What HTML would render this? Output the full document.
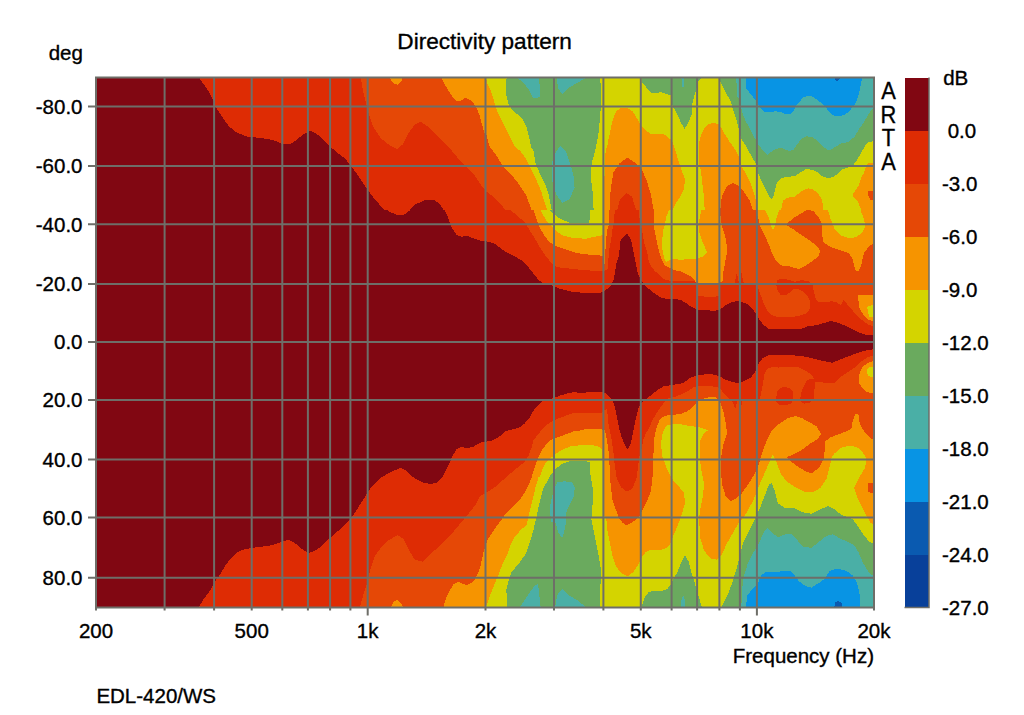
<!DOCTYPE html><html><head><meta charset="utf-8"><style>html,body{margin:0;padding:0;background:#fff;}svg{display:block}</style></head><body>
<svg width="1024" height="715" viewBox="0 0 1024 715" font-family='"Liberation Sans", sans-serif' fill="#000">
<style>text{stroke:#000;stroke-width:0.35px}</style>
<defs><clipPath id="pc"><rect x="96" y="77.5" width="778" height="530.0"/></clipPath><clipPath id="b0"><rect x="0" y="0" width="1024" height="210"/></clipPath><clipPath id="b1"><rect x="0" y="210" width="1024" height="133"/></clipPath><clipPath id="b2"><rect x="0" y="342.5" width="1024" height="372.5"/></clipPath></defs>
<g clip-path="url(#pc)" shape-rendering="crispEdges">
<rect x="96" y="77.5" width="778" height="530.0" fill="#810712"/>
<g clip-path="url(#b0)">
<path d="M96,70 200,70 199.8,78.5 202.6,82.7 206.5,88.4 210.3,94.1 213.1,99.9 215,105.6 217.9,110.3 221.7,116 225.5,121.8 229.3,126.5 235,131.3 240.7,134.1 246.4,136.4 252.2,137 259.8,138 267.4,138.9 275,140.8 281.7,143.7 291,143.5 296.7,139.8 302.4,135.1 307.2,132.2 311,130.9 315.8,133.2 321.5,137.9 329.1,145.6 336.7,152.2 344.3,157.9 350,164.6 355.7,172.2 361.5,180.8 367.2,189.4 372.9,197 378.6,203.6 384.3,209.9 386,215 408,215 409,210 414.8,204.6 424.3,200.4 433.8,199.8 439.5,203.6 443.4,209.9 444,215 880,215 880,70Z" fill="#de2c04"/>
<path d="M360.5,70 360.5,77 363.4,92.2 366.2,103.7 369.1,115.1 372.9,126.5 380.5,137.9 390,145.6 397.6,149 403.4,143.7 409.1,132.2 414.8,124.6 420.5,121.8 428.1,126.5 437.6,136 449.1,147.5 458.6,158.9 466.2,166.5 473.8,174.1 481.4,185.5 486,191.3 493.6,197 501.2,204.6 505,210 506,215 880,215 880,70Z" fill="#e54806"/>
<path d="M390,70 390,78.5 393.8,83.7 397.6,84.6 401.5,80.8 402.4,77 402.4,70Z" fill="#f69400"/>
<path d="M443,70 442,79 443.9,82.9 446.9,87.8 449.8,92.7 453.7,98.5 457.6,101.5 461.5,100.5 465.5,97.6 469.4,99.5 473.3,102.5 476.2,107.4 479.2,114.2 481.1,121.1 483.1,127.9 484.6,133.8 487,135.8 488,141.6 490,147 497.4,157 503.1,166.5 510.8,174.1 518.4,183.6 526,195.1 531.7,210 532,215 880,215 880,70Z" fill="#f69400"/>
<path d="M486,70 486,77 487,82.9 490,88.8 492.9,96.6 494.8,104.4 496.8,110.3 500.7,118.1 504.6,126 508.6,133.8 512.5,141.6 515,147 520.3,151 526,158.9 529.8,166.5 535.5,177.9 541.2,191.3 547,210 547,215 880,215 880,70Z" fill="#d4d400"/>
<path d="M506.6,70 506.6,78 505.6,86.8 506.6,96.6 508.6,104.4 512.5,110.3 518.4,115.2 523.3,120.1 526.2,126 528.1,133.8 530.1,141.6 531.1,147 533.6,151.3 535.5,162.7 539.3,172.2 545,183.6 548.8,195 551.7,210 552,215 593.6,215 593.6,210 592.6,191.3 590.7,176 591.7,162.7 594.6,153.2 598.4,134.1 600.3,115.1 601.2,96 600.3,78.5 600.3,70Z" fill="#6aaa5e"/>
<path d="M642,70 642,81.9 645.9,86.8 649.8,91.7 652.7,93.2 657.6,92.7 661.5,92.2 665.5,93.7 669.4,95.1 671.3,95.6 672.3,104.4 673.3,107.4 677.2,114.2 681.1,123 684.6,128.9 688,123 691.9,114.2 691.9,106.4 692.9,101.5 694.4,95.6 696.3,88.8 697.8,82.9 698.8,79.9 700.7,79 700.7,70Z" fill="#6aaa5e"/>
<path d="M719.5,70 719.5,80 721.3,83.9 725.2,91.7 729.1,98.5 731.1,102.5 733,109.3 736,118.1 738,126 739.8,134 741.9,140 745.8,145.9 750.7,154.7 754.6,161.5 756.9,164.5 758.6,174.3 761.5,181.1 764.4,187 768.4,194.8 771.3,199.7 773.3,196.8 775.2,189 777.2,182.1 781.1,178.2 786,177.2 794.7,176 799.6,173.1 805.5,169.2 812.3,169.7 817.2,172.1 822.1,176 828,178.5 832.9,177 838.8,173.1 842.7,169.2 848.6,167.2 853.5,164.8 857.4,159.4 861.3,152.5 865.2,145.7 868.1,141.8 874,141.3 880,141 880,70Z" fill="#6aaa5e"/>
<path d="M518.4,70 518.4,78.5 525.2,84.8 530.1,91.7 533,98.1 537.9,97.6 540,96.6 539.3,78.5 539.3,70Z" fill="#4aafa6"/>
<path d="M556.5,70 556.5,78.5 558.4,88.4 562.2,94.1 567.9,88.4 577.4,82.7 585,78.5 585,70Z" fill="#4aafa6"/>
<path d="M560.3,145.6 556.5,151.3 552.7,158.9 551.7,172.2 552.7,183.6 556.5,195.1 562.2,202.7 569.8,198.9 574.6,187.5 573.6,176 571.7,168.4 566,151.3Z" fill="#4aafa6"/>
<path d="M681,70 684.5,70 684,87 682,87Z" fill="#4aafa6"/>
<path d="M736,70 740,70 740,100 737,96Z" fill="#4aafa6"/>
<path d="M740,70 740.8,106 742.7,114.2 745.7,121.1 749.6,127.9 753.5,135.8 756.4,141 758.6,145 762.5,149.8 767.4,154.7 771.3,151.8 776.2,148.8 781.1,147.8 784.9,149.6 789.8,151.1 793.7,149.6 797.6,143.7 801.5,138.8 806.4,136.4 812.3,136.9 817.2,140.8 822.1,145.7 827,149.6 830.9,149.6 835.8,146.6 840.7,143.7 848.6,141.8 854.4,136.9 858.4,130 862.7,124 867.4,116.2 871.3,109.9 874,108 880,108 880,70Z" fill="#4aafa6"/>
<path d="M745.7,70 745.7,87.8 749.6,92.7 753.5,97.6 756.4,100.5 759.4,106.4 762.3,110.3 765.3,112.3 771.1,112.3 775.1,111.3 780.9,111.8 784.8,114.2 790.7,114.2 793.7,110.3 797.6,103.4 800,101.3 803.1,97.4 807.8,95.8 812.5,96.6 817.2,99.7 821.9,103.6 825.9,107.6 829,111.5 832.9,115.4 837.6,115.8 843.9,115.4 847.8,112.3 851.7,108.3 854.9,104.4 857.2,98.9 859.6,91.1 861.1,83.3 861.9,78.6 862,70Z" fill="#0894e4"/>
<path d="M834.5,70 840.8,70 840.8,78 839,80 837.6,81.3 835.5,80 834.5,78Z" fill="#0a5ab0"/>
<path d="M604.5,215 604.2,189 604.7,169.4 605.7,149.8 607.5,145 608.4,140 609.3,135.8 611.3,126 613.3,118.1 616.2,111.3 620.1,108.3 626.9,107.5 632.6,111.3 638.4,120.8 642,127 645.9,130.9 650.8,133.8 663.5,133.8 668.4,137.7 672.3,141 675.2,149.8 678.1,159.6 681.1,169.4 685,179.2 684,189 680.1,196.8 676.2,202.7 673.3,208.6 672,215Z" fill="#f69400"/>
<path d="M704.7,215 704.7,210 703.7,193.9 701.8,179.2 700.8,169.4 698.8,165.5 698.5,145 700.7,135.8 704.6,127.9 708.6,124 713.5,123 718.4,124 721.3,127.9 725.2,134.8 729.1,141 734.1,147.8 739,156.7 741.9,167.4 745.8,173.3 749.7,181.1 752.7,189 755.6,198.8 757.6,210 758,215Z" fill="#f69400"/>
<path d="M866.2,166.2 868.1,163.3 874,163 880,163 880,215 863.4,216 862.3,212.4 860.1,207.3 858.4,202.3 855,198.4 852.2,195 854.5,191.7 858.4,186.1 860.1,181.6 861.7,176 863.3,174.1 865.2,169.2Z" fill="#f69400"/>
<path d="M781,215 781.1,210 783,200.7 787,197.8 794.7,196.6 802.5,190.7 808.4,188.3 813.3,189.7 818.2,193.7 822.1,200 824,215Z" fill="#f69400"/>
<path d="M609.6,215 609.6,198.8 611.5,184.1 613.5,172.3 619.4,163.5 627.2,157.6 635,162.5 641.9,169.4 646.8,181.1 650.7,193.9 653.7,210 654,215Z" fill="#e54806"/>
<path d="M720.4,215 720.4,210 720.9,200.7 723.3,192.9 727.2,186 733.1,183.1 739,186 744.8,192.9 749.7,200.7 752.7,210 753,215Z" fill="#e54806"/>
<path d="M867.5,193 869,190.5 880,190.5 880,200.5 870,199.5Z" fill="#e54806"/>
<path d="M617.4,215 617.4,210 619.4,200.7 626.2,192.9 632.1,196.8 636,210 636,215Z" fill="#de2c04"/>
</g>
<g clip-path="url(#b1)">
<path d="M370,195 379.2,204.4 385.1,208.8 391,212.5 396.8,214.7 401.2,215.4 405.6,214 411.5,208.8 417.4,204.4 423.3,202.2 429.1,200.7 435,201.5 440.9,204.4 443.8,208.8 446.8,214.7 449.7,222 452.7,229.4 457.1,235.3 461.5,236.7 467.3,236 473.2,238.2 479.1,240.4 484.2,241.1 489.9,242.1 493.8,243.1 497.8,246 501.7,249 505.6,251.9 511.5,254.8 517.3,257.8 522.2,260.7 526.2,264.6 529,268 531.3,270.9 535.3,275.8 539.2,280.7 543.1,283.1 549,284.6 553.9,286.1 558.8,288.5 564.6,290 570.5,291.4 578.4,292.4 586.2,292.9 594,293.4 599.9,292.9 603.8,291.4 607.8,288.5 611.7,284.6 613.6,279.7 614.6,274.8 615.6,268.9 616.7,262 618.2,258.8 619.7,249 620.2,241.1 623.1,237.2 627,233.8 630.9,239.2 632.9,249 634.8,258.8 636.2,265 637.1,270.9 639.1,276.8 642,281.7 646,286.5 650.8,290.5 655.7,294.4 660.6,297.3 666.5,298.8 672.4,299.3 677.3,299.3 681.2,300.3 686.1,303.2 690,306.1 693.9,308.1 697.8,309.6 703.7,310.1 709.6,310.5 715.5,310.5 719.4,310.1 723.3,307.1 727.2,304.2 732.1,302.2 736,301.2 740.9,301.7 745.9,303.3 749.8,306.2 753.7,310.2 756.7,315.1 759.6,320 763.5,324.8 768.4,328.8 779.2,329.3 789.8,329.4 801.5,328.9 807.4,326.4 817.2,325 824.1,323 830.9,321.1 838.8,323 846.6,326.4 854.4,330.4 861.3,333.3 866.2,334.8 874,335.3 880,335.3 880,195Z" fill="#de2c04"/>
<path d="M495,195 499.7,200 505.6,205.9 511.5,210.8 518.3,216.7 525.2,222.5 529.1,229.4 533,235.3 536.9,242.1 540.8,249 544.8,254.8 548.7,259.7 552.6,263.7 556.5,266.6 560.5,267.5 568.6,268.5 578.4,269.5 588.1,270.4 598,270.9 603,271 607.4,270 608.4,258.8 609.4,249 611.3,239.2 612.3,229.4 613.8,223.5 614.8,209.8 615,205 637.5,205 638.8,209.8 639.7,219.6 640.7,224.5 642.7,234.3 644.6,244.1 647.6,253.9 648.9,262 651,266 654.8,270.9 660.6,276 664.2,279.2 670.5,280.9 676.8,281 685.2,281 693.6,280.5 696.5,282 697.5,295.5 703.7,296.5 709.6,296.8 715.5,296.5 719.4,296.3 719.6,284.5 740,284 756.4,284 758,286.3 758.6,289.6 761.5,297.4 764.5,305.3 767.4,311.1 771.3,315.1 777.2,317 784.1,316.5 793.9,316.8 799.6,315.7 805.5,313.7 809.4,309.8 810.5,302.3 807.6,296.4 802.7,291.5 797.8,288.6 793.9,288.6 790,292.5 785.1,295.5 780.2,294.5 777.2,289.6 776.2,284.7 777.2,279.8 782.1,278.8 789,279.8 794.8,281.8 800.7,280.3 808.6,280.8 812.5,284.7 813.5,289.6 815.2,297.4 818.1,302.2 825,302.2 831.8,301.2 836.7,302.2 840.6,305.1 843.7,300 848.6,305.9 854.4,312.7 861.3,319.6 868.1,324.5 874,326.4 880,326.4 880,195Z" fill="#e54806"/>
<path d="M734.5,284 736.8,272.2 739.2,284Z" fill="#de2c04"/>
<path d="M740.8,284 741.5,273 743.9,284Z" fill="#de2c04"/>
<path d="M531.7,205 534,211.8 536,217.6 537.9,223.5 540.8,229.4 544.8,236.2 548.7,241.1 553.6,245.1 558.5,247 564.4,249 570.2,250.9 576.1,252.9 582,253.9 586,254.4 591.8,254.8 597.6,255.3 602.5,255.8 603.5,263 604.5,264 605,258.8 605.5,249 606,239.2 607.4,229.4 609.4,223.5 609.4,210 609.5,205 653,205 653.5,209.8 653.5,223.5 654.4,229.4 656.4,239.2 658.4,249 661.3,258.8 664.6,265 669.5,267.9 674.4,270.4 680.2,270.9 686.1,273.8 691,276.8 694,279.7 696,282.6 700,283 719,283 722.7,280.9 723.5,270.7 725,263 726.5,255 727,247 725.8,239.2 724,232.3 722,226.4 720.4,215 720.4,205 752.7,205 754.5,208 756.6,212.6 758.6,219.5 759.6,224.4 762.5,231.2 766.4,239.1 769.4,245.9 772.3,253.8 775.3,259.6 779.2,264 781.9,265.5 787.8,266 793.6,267.6 797.5,268.6 799.5,268.6 805.4,265.6 811.3,261.7 818.1,256.8 820.1,250.9 817.1,246 813.2,243.1 807.6,239.1 801.7,235.2 794.8,230.3 787,225.4 786,224.4 792.9,218.5 800.7,213.6 807.3,209.8 813.2,210.8 818.1,216.7 822,223.5 822,232.3 823,242.1 830.8,247 839.7,249.9 848.5,252.9 852.4,258.8 854.4,266.6 855.3,270 857,271.5 859.3,270 861.2,265 862.2,260.7 864.1,252.9 869,246 874,243.1 880,243 880,195 531.7,195Z" fill="#f69400"/>
<path d="M858.4,300 859.3,307.8 863.2,314.7 868.1,319.6 874,321.5 880,321.5 880,295 858,295Z" fill="#f69400"/>
<path d="M867,307 872,305 874,306 874,317 869,316.7Z" fill="#d4d400"/>
<path d="M536.9,200 538.9,205.9 541.8,212.7 545.7,219.6 549.7,224.5 552.6,227.4 556.5,231.3 562.4,235.3 569.3,237.2 576.1,238.2 586,238.7 589.8,237.7 597.6,236.2 602.5,235.3 603.5,230 603.5,200Z" fill="#d4d400"/>
<path d="M672,200 669.1,209.8 666.2,216.7 665.2,223.5 663.3,229.4 662.3,239.2 662.3,249 664.2,258.8 666,262 672,258.8 679.8,259.7 689.6,259.3 696.4,258.8 702.3,256.8 707.2,252.9 702.3,241.1 699.4,232.3 698.4,225.5 699.4,219.6 701.3,209.8 702.3,200Z" fill="#d4d400"/>
<path d="M758.6,195 762.5,204.8 766.4,212.6 769.4,219.5 772.3,229.3 774.3,228.3 776.2,219.5 778.2,212.6 781.1,204.8 786,198.9 794.8,195Z" fill="#d4d400"/>
<path d="M825,200 827.9,209.8 830.8,219.6 834.8,229.4 840.6,235.3 848.5,238.2 856.3,237.2 862.2,232.3 865.1,226.4 864.1,219.6 861.2,211.8 858.3,204.9 856.3,200Z" fill="#d4d400"/>
<path d="M545.7,200 547.7,205.9 550.6,210.8 554.6,214.7 558.5,217.6 564.4,220.6 570.2,223 580,223.5 588.8,222.5 589.8,219.6 590.3,209.8 590.8,200Z" fill="#6aaa5e"/>
</g>
<g clip-path="url(#b2)">
<path d="M190,620 198.8,607 204.5,597.9 210.3,590.3 214.1,582.6 219.8,575 225.5,565.5 231.2,557.9 236.9,552.2 244.5,549.3 252.2,548 259.8,546.8 267.4,546.1 275,544.2 281.7,541.7 288.3,539.8 291,540.7 296.7,544.6 302.4,549.3 308.1,553.1 313.9,551.2 321.5,546.5 329.1,538.8 336.7,532.2 344.3,525.5 350,519.8 353.8,514.1 357.7,508.4 362.4,500.8 366.2,495 371,487.4 376.7,481.7 380,478.2 387.1,474 394.1,470.5 400.6,467.9 405.9,470.5 410.6,475.2 415.3,478.7 422.3,482.3 430.5,484 437.6,482.3 442.3,477.6 445.8,470.5 449.3,463.5 452.9,455.2 456.4,449.4 461.1,447 467,448.2 472.9,447 478.7,443.5 483.4,441.7 486,441.7 491.9,440.7 497.8,437.8 502.7,433.9 505,431.3 512.8,429.4 519.7,427.4 524.6,423.5 529.5,417.6 533.4,410.8 537.3,405.9 541.2,402 548.7,399.1 553.6,398.1 559.5,395.7 566.3,393.7 574.1,392.2 580,392.9 586,392.5 601.5,391.9 605.5,393.4 609.4,396.8 612.3,400.7 614,403.4 616.8,416 619.6,430 621.6,437 623.8,442.6 627.3,449.5 630.8,444 633.6,430 636.4,416 638.5,408 640.6,403.4 642.7,402.2 646.6,398.8 651.5,394.8 657.4,390 663.3,386.5 669.1,385.5 675.2,384.5 679.8,384 684.7,382.1 689.6,378.2 695.5,375.7 701.3,374.8 709.2,373.8 715.1,374.8 720.9,377.2 726.8,380.2 732.7,382.1 737.6,383.1 742.5,382.1 746,379.8 751.1,377.3 754.9,372.2 758.7,363.3 762.5,358.2 768.9,355.1 784.1,355.1 800.6,355.7 812,358.2 822.2,360.8 832.3,362.7 839.9,359.5 850.1,355.7 860.3,351.9 867.9,350 873.6,349.3 880,349 880,620Z" fill="#de2c04"/>
<path d="M355,615 359.6,609 363.4,594.1 367.2,582.6 371,567.4 374.8,556 380.5,548.4 388.1,540.7 397.6,535 403.4,538.8 409.1,550.3 414.8,559.8 422.4,561.7 430,554.1 439.5,546.5 449.1,536.9 458.6,525.5 468.1,514.1 475.7,504.6 480,496.1 486.9,492.2 494.7,487.3 502.5,480.5 506.7,476.9 512.3,471.9 518.5,466.8 524,462.4 528,456.8 531.3,448.4 533.6,440 538.3,434 542.2,429.4 547.1,424.5 552,421.5 557.9,418.6 565.7,415.7 575,412.7 580,412.8 586,413 601.5,413.3 603.5,411 607,409 608.4,423 611.2,437 613.3,451 614.7,464.9 616.8,478.9 621,487.3 626.6,491.5 632.2,488.7 636.4,478.9 638.4,464.3 639.4,456 641.3,449.6 643.3,439.8 646,433 648.9,428.8 651.1,423.2 653.9,417.6 657.3,412 661.2,406.4 665.1,401.4 668,398 675.2,396.8 683.6,393.4 689.5,390.1 694.5,386.7 700.4,385.9 708.8,386.3 717.2,386.7 720.5,389.2 723.9,393.4 727.2,396.8 730,399.5 740,400 757,400 800,400 811.4,401 813.5,399 815.3,381.6 821.6,382.4 829.5,383.2 835,382.8 839.9,377.3 847.6,372.2 855.2,367.1 860.3,362 867.9,357 873.6,355.7 880,355.5 880,620 355,620Z" fill="#e54806"/>
<path d="M731.5,399 735.3,409 737.8,399Z" fill="#de2c04"/>
<path d="M740.4,399 741.6,405.2 742.5,399Z" fill="#de2c04"/>
<path d="M759.7,400 762.1,387.9 764.4,374.6 766.8,369.1 772.2,366.8 778.5,367.5 784.8,366.8 792.6,366.8 798.9,367.5 805.9,370.7 811.4,374.6 813.8,378.5 809.9,379.3 806.7,380.9 804.4,384.8 802,389.5 800,400Z" fill="#e54806"/>
<path d="M776.2,399 777,391.8 780.1,387.9 784.8,387.1 789.5,387.9 792.6,391 793,398 791.8,403 787,405.2 780,405 776.5,402Z" fill="#de2c04"/>
<path d="M800.5,398 812,398 810,403 804,403.6 801,402Z" fill="#de2c04"/>
<path d="M443,615 443,609 445.7,598.8 449.6,590.9 453.5,584.1 458.4,581.6 463.3,584.1 467.2,585.1 471.1,583.1 475.1,579.2 478,573.3 480.9,564.5 482.9,554.7 484.8,547.8 486.8,542 488.5,538 491.1,534.2 496.2,526.6 498.6,523.6 503.5,516.7 508.4,510.8 514.3,505 520.2,499.1 525.1,492.2 529,484.4 531.9,476.5 534.1,469.1 536.4,462.4 539.1,455.7 543.1,448.4 547.5,442.8 551,440 558,437.2 566,434.3 574,431.3 580,430.5 585.9,429 594.7,428.5 601.5,429.5 605,430 607,440 608.5,451 609.5,465 610.5,483 612.5,500 616,510 619,518 622.9,523 626.7,525.3 631.7,522.8 636.8,519 640.6,514.2 645.7,504.1 650.8,491.4 652.5,477.4 653.2,458.4 654,445.7 654.5,437 656.5,428 659.5,420 663.5,416.5 667,415.5 673.5,415 681.9,413.6 687.8,411.1 693.7,406 697,401.8 703.7,398.5 710.5,396.8 716.3,397.6 718.9,400.2 721.4,405.2 723.9,413.6 725.6,422 727,433 723,446 721,458 721,471 722,484 725.7,496.5 730,501 733.7,500 741.3,493.9 748.9,483.3 752,478 757,470 760,460 763,450 767,440 772,430 776,426 779,424.2 787.9,417.9 790,417.5 795.9,416.1 802.7,418.5 809.6,422.4 816.4,426.3 821.3,434.2 817.4,439.1 809.6,444 801.8,449.8 794.9,453.8 787,457 791.6,461.9 797.7,466.5 805.3,471.1 811.4,473.4 819,468 823.6,458.9 825.1,448.2 825.3,441 831.1,437.1 839,434.2 846.8,431.2 851.7,428.3 852.7,420.5 855.6,413.6 858.6,414.6 859.5,422.4 862.5,429.3 868.4,436.1 873.3,440.1 880,441 880,620 443,620Z" fill="#f69400"/>
<path d="M390,615 390,609 393.8,601.7 397.6,599.8 401.5,603.6 403.4,609 404,615Z" fill="#f69400"/>
<path d="M859,374.7 862.8,365.9 870.4,362 873.6,360.8 880,360 880,394 873.6,393.8 865.3,391.2 859,383.6Z" fill="#f69400"/>
<path d="M866.6,370 870,367 874,366.5 874,377.3 868,376Z" fill="#d4d400"/>
<path d="M484,615 485,607 486.8,604.6 490.7,593.9 494.6,584.1 498.6,574.3 502.5,564.5 507.4,554.7 510,545.9 513.9,538 521.5,529.2 527,525 528,517.7 530,509.8 531.9,502 533.9,494.2 535.8,486.3 538.4,477.5 540.3,475.8 542.5,469.1 545.9,462.4 551,457.8 556.9,452.9 563.8,449 571.6,446 577.1,445.6 586,444.8 594.7,445.6 599.6,447.1 601.5,449.1 602.5,460 603,471 603.2,500 603.5,515 606.3,519 607.6,531.7 610.2,544.4 612.7,557.1 616.5,567.2 621.6,573.6 627.9,576.1 633,572.3 638.1,564.7 641.9,557.1 645.7,552 652,549.5 660.9,550.1 666,548.2 669.8,544.4 672.4,538 676.2,529.2 679.5,521 682.5,511.7 685.1,502.8 683.8,492.7 678.7,486.3 673.6,481.2 669.8,474.6 665.8,466 662.5,457 661,445 662,435 664.3,429 667,425.5 673.5,424.3 678.5,423.7 685.3,425.3 697,427 702,427.9 707.9,430.4 703.7,433.7 700.4,440 699.5,458.4 701.6,471.1 704.1,483.8 702.8,496.5 700.3,509.2 699,519 700.3,538 704.1,550.7 710.4,558.4 716.8,559.6 721.9,554.5 726.1,544.9 732.2,534.2 738.3,523.6 740.5,521 745.9,513.7 753.5,500 758.1,487.8 764.2,474.1 768.8,463.5 772.6,454.3 776.4,461.9 780.9,474.1 787,481.8 796.2,487.8 805.3,492.4 812.9,492.4 820.5,487.8 826.6,478.7 829.7,466.5 831.5,458 834.1,453.8 840.9,447.9 848.8,445.9 856.6,446.9 862.5,451.8 866.4,458.7 865,468 858.6,478.7 854.1,487.8 857.1,497 861.7,506.1 866.3,515.3 870.8,523 874,525 880,525 880,620 484,620Z" fill="#d4d400"/>
<path d="M506.9,615 506.9,605.3 506.4,589 508.4,581.1 511.4,572.3 519,563.4 525.4,554.5 529.2,544.4 533,531.7 535.5,521 536.8,517.7 537.8,509.8 539.7,502 541.7,494.2 543.7,487.3 546.6,482.4 550,475.6 555,469.5 562,463.7 571,460.8 580,460.8 589.8,461.8 590.5,475 592.6,487.6 592.6,504.1 591.4,519 593.9,531.7 596.4,544.4 599,557.1 600.9,569.8 601.5,577.4 600.3,585 599.6,595.2 600.3,606.6 600.3,615Z" fill="#6aaa5e"/>
<path d="M641.9,615 641.9,606.6 644.4,597.7 648.2,592.6 653.3,590.7 660.9,591.4 667.3,588.8 671,584 673.6,578.7 677.4,572.3 681.2,562.2 685.1,555.2 688.9,562.2 691.4,572.3 694.6,582.5 696.5,590.1 699,597.7 701.6,606.6 702,615Z" fill="#6aaa5e"/>
<path d="M721.9,615 722,606 723,604.3 727.6,595.2 732.2,583 736.8,567.8 739.8,555.6 742.9,543.4 748.9,531.2 755,519 757.5,512 759.6,509.2 764.2,497 768.8,484.8 771.8,483.3 774.8,490.9 777.9,503.1 784,507.6 793.1,507.6 802.3,512.2 811.4,513.7 820.5,509.2 828.2,506.1 834.3,509.2 841.9,515.3 851,518.3 852.5,519 857.1,525.1 863.2,534.2 869.3,541.9 873.9,543.4 880,543.4 880,615Z" fill="#6aaa5e"/>
<path d="M557.1,482.5 564.7,481.2 572.3,482.5 574.9,487.6 573.6,496.5 569.8,504.1 566.5,511.7 566,522 564,533 562.2,538 558,532 555.8,523 551.5,522 549.5,509.2 552,496.5 554.6,487.6Z" fill="#4aafa6"/>
<path d="M520.3,615 520.3,606.6 527.9,595.2 534.2,586.3 538.1,583.7 539.3,595.2 540.6,606.6 540.6,615Z" fill="#4aafa6"/>
<path d="M555.2,615 555.2,606.6 557.1,595.2 562.2,588.8 568.5,595.2 577.4,600.2 585,606.6 586,615Z" fill="#4aafa6"/>
<path d="M681.2,615 681.5,600 683,595.2 685,600 685.1,615Z" fill="#4aafa6"/>
<path d="M741.3,615 741.3,606.1 742.9,579.9 747.4,564.7 753.5,552.5 759.6,541.9 764.2,531.2 767.2,528.1 771.8,532.7 777.9,537.3 785.5,534.2 791.6,533.5 796.2,538.8 802.3,546.4 811.4,547.9 819,541.9 826.6,535.8 832.7,534.2 840.4,538.8 848,541.9 854.1,544.9 858.6,552.5 863.2,563.2 867.8,570.8 872.3,575.4 874,575.7 880,576 880,615Z" fill="#4aafa6"/>
<path d="M745.9,615 745.9,606.1 747.4,595.2 753.5,587.6 758.1,583 761.1,575.4 765.7,572.3 774.8,572.3 784,570.8 790.1,570.8 794.6,575.4 799.2,581.5 805.3,586 811.4,587.6 819,583 825.1,578.4 829.7,570.8 837.3,568.5 846.4,570.8 852.5,575.4 857.1,583 859.4,592.1 860.2,606.1 860.2,615Z" fill="#0894e4"/>
<path d="M834.3,608 835,602 838,601 841.9,603 842,608Z" fill="#0a5ab0"/>
<path d="M867.8,483.3 874,483 874,494 868,492Z" fill="#e54806"/>
</g>
</g>
<path d="M164.6,77.5V607.5M214.1,77.5V607.5M251.7,77.5V607.5M282.3,77.5V607.5M307.9,77.5V607.5M330.1,77.5V607.5M350.4,77.5V607.5M367.7,77.5V607.5M485.5,77.5V607.5M554.0,77.5V607.5M603.4,77.5V607.5M640.8,77.5V607.5M671.6,77.5V607.5M697.1,77.5V607.5M719.4,77.5V607.5M739.9,77.5V607.5M756.9,77.5V607.5M96,106.5H874M96,166.0H874M96,224.2H874M96,284.0H874M96,342.0H874M96,400.0H874M96,459.6H874M96,517.6H874M96,577.7H874" stroke="#6e6e68" stroke-width="2" fill="none"/>
<rect x="96" y="77.5" width="778" height="530.0" stroke="#6e6e68" stroke-width="2" fill="none"/>
<path d="M96.0,607.5V610.5M164.6,607.5V610.5M214.1,607.5V610.5M251.7,607.5V610.5M282.3,607.5V610.5M307.9,607.5V610.5M330.1,607.5V610.5M350.4,607.5V610.5M367.7,607.5V615.5M485.5,607.5V610.5M554.0,607.5V610.5M603.4,607.5V610.5M640.8,607.5V610.5M671.6,607.5V610.5M697.1,607.5V610.5M719.4,607.5V610.5M739.9,607.5V610.5M756.9,607.5V615.5M874.0,607.5V610.5M88,106.5H96M88,166.0H96M88,224.2H96M88,284.0H96M88,342.0H96M88,400.0H96M88,459.6H96M88,517.6H96M88,577.7H96" stroke="#6e6e68" stroke-width="2" fill="none"/>
<text x="484.6" y="48.7" font-size="22.6" text-anchor="middle">Directivity pattern</text>
<text x="65.8" y="59.6" font-size="20.5" text-anchor="middle">deg</text>
<text x="82.5" y="113.8" font-size="20.5" text-anchor="end">-80.0</text>
<text x="82.5" y="173.3" font-size="20.5" text-anchor="end">-60.0</text>
<text x="82.5" y="231.5" font-size="20.5" text-anchor="end">-40.0</text>
<text x="82.5" y="291.3" font-size="20.5" text-anchor="end">-20.0</text>
<text x="82.5" y="349.3" font-size="20.5" text-anchor="end">0.0</text>
<text x="82.5" y="407.3" font-size="20.5" text-anchor="end">20.0</text>
<text x="82.5" y="466.9" font-size="20.5" text-anchor="end">40.0</text>
<text x="82.5" y="524.9" font-size="20.5" text-anchor="end">60.0</text>
<text x="82.5" y="585.0" font-size="20.5" text-anchor="end">80.0</text>
<text x="96.0" y="638" font-size="20.5" text-anchor="middle">200</text>
<text x="251.7" y="638" font-size="20.5" text-anchor="middle">500</text>
<text x="367.7" y="638" font-size="20.5" text-anchor="middle">1k</text>
<text x="485.5" y="638" font-size="20.5" text-anchor="middle">2k</text>
<text x="640.8" y="638" font-size="20.5" text-anchor="middle">5k</text>
<text x="756.9" y="638" font-size="20.5" text-anchor="middle">10k</text>
<text x="874.0" y="638" font-size="20.5" text-anchor="middle">20k</text>
<text x="874" y="663.2" font-size="20.5" text-anchor="end">Frequency (Hz)</text>
<text x="96.4" y="702.8" font-size="20.5">EDL-420/WS</text>
<text x="0" y="99.1" font-size="23.5" text-anchor="middle" transform="translate(888.5,0) scale(0.93,1)">A</text>
<text x="0" y="122.9" font-size="23.5" text-anchor="middle" transform="translate(888.5,0) scale(0.93,1)">R</text>
<text x="0" y="145.9" font-size="23.5" text-anchor="middle" transform="translate(888.5,0) scale(0.93,1)">T</text>
<text x="0" y="169.7" font-size="23.5" text-anchor="middle" transform="translate(888.5,0) scale(0.93,1)">A</text>
<rect x="904.5" y="77.5" width="24.5" height="53" fill="#810712" shape-rendering="crispEdges"/>
<rect x="904.5" y="130.5" width="24.5" height="53" fill="#de2c04" shape-rendering="crispEdges"/>
<rect x="904.5" y="183.5" width="24.5" height="53" fill="#e54806" shape-rendering="crispEdges"/>
<rect x="904.5" y="236.5" width="24.5" height="53" fill="#f69400" shape-rendering="crispEdges"/>
<rect x="904.5" y="289.5" width="24.5" height="53" fill="#d4d400" shape-rendering="crispEdges"/>
<rect x="904.5" y="342.5" width="24.5" height="53" fill="#6aaa5e" shape-rendering="crispEdges"/>
<rect x="904.5" y="395.5" width="24.5" height="53" fill="#4aafa6" shape-rendering="crispEdges"/>
<rect x="904.5" y="448.5" width="24.5" height="53" fill="#0894e4" shape-rendering="crispEdges"/>
<rect x="904.5" y="501.5" width="24.5" height="53" fill="#0a5ab0" shape-rendering="crispEdges"/>
<rect x="904.5" y="554.5" width="24.5" height="53" fill="#08409a" shape-rendering="crispEdges"/>
<path d="M929.0,77.5V607.5H904.5" stroke="#6e6e68" stroke-width="1.5" fill="none"/>
<text x="943.2" y="85" font-size="20.5">dB</text>
<text x="947.7" y="137.8" font-size="20.5">0.0</text>
<text x="942" y="190.8" font-size="20.5">-3.0</text>
<text x="942" y="243.8" font-size="20.5">-6.0</text>
<text x="942" y="296.8" font-size="20.5">-9.0</text>
<text x="942" y="349.8" font-size="20.5">-12.0</text>
<text x="942" y="402.8" font-size="20.5">-15.0</text>
<text x="942" y="455.8" font-size="20.5">-18.0</text>
<text x="942" y="508.8" font-size="20.5">-21.0</text>
<text x="942" y="561.8" font-size="20.5">-24.0</text>
<text x="942" y="614.8" font-size="20.5">-27.0</text>
</svg></body></html>
